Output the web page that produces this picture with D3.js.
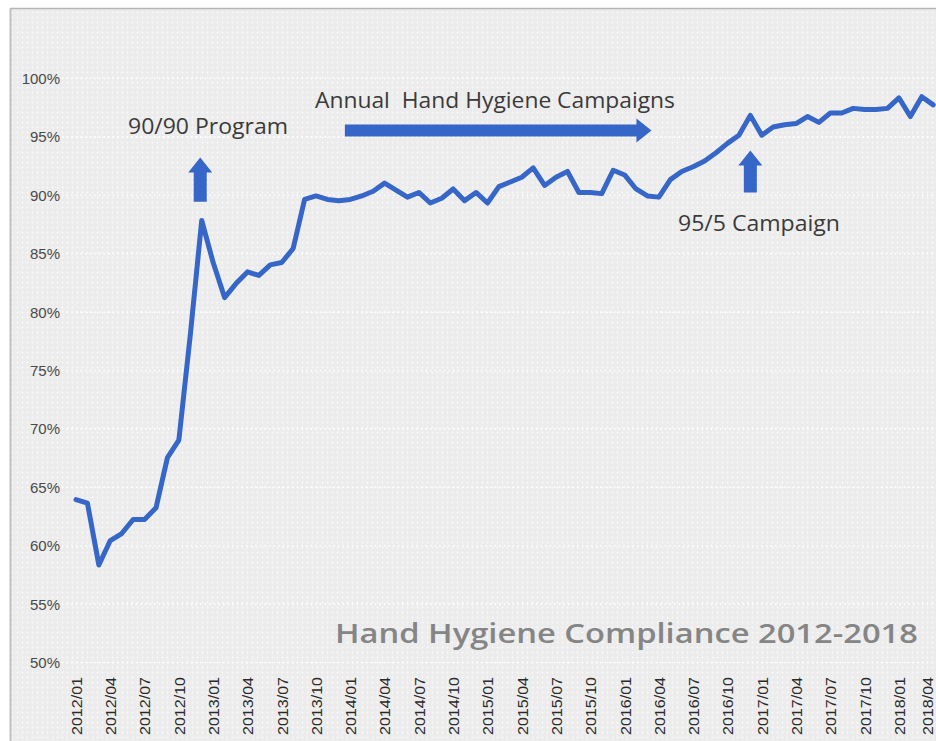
<!DOCTYPE html>
<html>
<head>
<meta charset="utf-8">
<script src="https://cdn.jsdelivr.net/npm/d3@7"></script>
<style>
  html, body { margin: 0; padding: 0; background: #ffffff; }
  svg { display: block; }
</style>
</head>
<body>
<svg id="chart" width="936" height="741"></svg>
<script>
// ---- DATA ----
const months = [
  "2012/01","2012/02","2012/03","2012/04","2012/05","2012/06","2012/07","2012/08","2012/09","2012/10","2012/11","2012/12",
  "2013/01","2013/02","2013/03","2013/04","2013/05","2013/06","2013/07","2013/08","2013/09","2013/10","2013/11","2013/12",
  "2014/01","2014/02","2014/03","2014/04","2014/05","2014/06","2014/07","2014/08","2014/09","2014/10","2014/11","2014/12",
  "2015/01","2015/02","2015/03","2015/04","2015/05","2015/06","2015/07","2015/08","2015/09","2015/10","2015/11","2015/12",
  "2016/01","2016/02","2016/03","2016/04","2016/05","2016/06","2016/07","2016/08","2016/09","2016/10","2016/11","2016/12",
  "2017/01","2017/02","2017/03","2017/04","2017/05","2017/06","2017/07","2017/08","2017/09","2017/10","2017/11","2017/12",
  "2018/01","2018/02","2018/03","2018/04"
];
const compliance = [
  63.9, 63.6, 58.3, 60.4, 61.0, 62.2, 62.2, 63.2, 67.5, 69.0, 78.0, 87.8,
  84.2, 81.2, 82.4, 83.4, 83.1, 84.0, 84.2, 85.4, 89.6, 89.9, 89.6, 89.5,
  89.6, 89.9, 90.3, 91.0, 90.4, 89.8, 90.2, 89.3, 89.7, 90.5, 89.5, 90.2,
  89.3, 90.7, 91.1, 91.5, 92.3, 90.8, 91.5, 92.0, 90.2, 90.2, 90.1, 92.1,
  91.7, 90.5, 89.9, 89.8, 91.3, 92.0, 92.4, 92.9, 93.6, 94.4, 95.1, 96.8,
  95.1, 95.8, 96.0, 96.1, 96.7, 96.2, 97.0, 97.0, 97.4, 97.3, 97.3, 97.4,
  98.3, 96.7, 98.4, 97.7
];
const xTickLabels = months.filter((m, i) => i % 3 === 0);
const yTicks = [50, 55, 60, 65, 70, 75, 80, 85, 90, 95, 100];
const titleText = "Hand Hygiene Compliance 2012-2018";
const annotations = [
  { text: "90/90 Program", month: "2012/12" },
  { text: "Annual  Hand Hygiene Campaigns", from: "2013/12", to: "2016/03" },
  { text: "95/5 Campaign", month: "2016/12" }
];

// ---- LAYOUT ----
const svg = d3.select("#chart");
const W = 936, H = 741;
const blue = "#3566c8";

const defs = svg.append("defs");
const pat = defs.append("pattern")
  .attr("id", "dots").attr("width", 5).attr("height", 5)
  .attr("patternUnits", "userSpaceOnUse");
pat.append("rect").attr("width", 5).attr("height", 5).attr("fill", "#ececec");
pat.append("circle").attr("cx", 2.5).attr("cy", 2.5).attr("r", 0.9).attr("fill", "#fbfbfb");

// frame background
svg.append("rect").attr("x", 10).attr("y", 8).attr("width", W - 10).attr("height", H - 8)
  .attr("fill", "url(#dots)");
svg.append("line").attr("x1", 10).attr("x2", W).attr("y1", 8.5).attr("y2", 8.5)
  .attr("stroke", "#b5b5b5").attr("stroke-width", 1.5);
svg.append("line").attr("x1", 10.5).attr("x2", 10.5).attr("y1", 8).attr("y2", H)
  .attr("stroke", "#c0c0c8").attr("stroke-width", 2);

const x = d3.scalePoint().domain(months).range([76, 933.2]);
const y = d3.scaleLinear().domain([50, 100]).range([662, 78]);

// gridlines (white dotted)
svg.append("g").selectAll("line").data(yTicks).join("line")
  .attr("x1", 62).attr("x2", W)
  .attr("y1", d => y(d) + 0.5).attr("y2", d => y(d) + 0.5)
  .attr("stroke", "#ffffff").attr("stroke-width", 1.6)
  .attr("stroke-dasharray", "1.6,3");

// y axis
const yAxis = d3.axisLeft(y).tickValues(yTicks).tickFormat(d => d + "%").tickSize(0).tickPadding(0);
const gy = svg.append("g").attr("transform", "translate(60,0)").call(yAxis);
gy.select(".domain").remove();
gy.selectAll("text")
  .attr("font-family", "'Liberation Sans', Arial, sans-serif")
  .attr("font-size", 15).attr("fill", "#4a4a4a")
  .attr("dy", "0.36em");

// x axis
const xAxis = d3.axisBottom(x).tickValues(xTickLabels).tickSize(0).tickPadding(0);
const gx = svg.append("g").attr("transform", "translate(0,677)").call(xAxis);
gx.select(".domain").remove();
gx.selectAll("text")
  .attr("font-family", "'Liberation Sans', Arial, sans-serif")
  .attr("font-size", 15).attr("fill", "#2a2a2a")
  .attr("text-anchor", "end")
  .attr("transform", "rotate(-90)")
  .attr("x", 0).attr("y", (d, i, n) => i === n.length - 1 ? -6.5 : 0).attr("dy", "0.36em")
  .attr("textLength", 58).attr("lengthAdjust", "spacingAndGlyphs");

// line
const line = d3.line().x((d, i) => x(months[i])).y(d => y(d));
svg.append("path").datum(compliance)
  .attr("d", line)
  .attr("fill", "none").attr("stroke", blue)
  .attr("stroke-width", 5).attr("stroke-linejoin", "round").attr("stroke-linecap", "round");

// title
svg.append("text").attr("x", 335).attr("y", 643)
  .attr("font-family", "'Open Sans', sans-serif").attr("font-weight", 600)
  .attr("font-size", 27).attr("fill", "#858585")
  .attr("textLength", 583).attr("lengthAdjust", "spacingAndGlyphs")
  .text(titleText);

// annotation helpers
function upArrow(cx, tipY, baseY) {
  const hw = 12, sw = 6.5, headH = 15;
  const p = [[cx, tipY], [cx + hw, tipY + headH], [cx + sw, tipY + headH], [cx + sw, baseY],
             [cx - sw, baseY], [cx - sw, tipY + headH], [cx - hw, tipY + headH]];
  svg.append("polygon").attr("points", p.map(q => q.join(",")).join(" ")).attr("fill", blue);
}
function rightArrow(x0, x1, cy) {
  const hh = 12, sh = 6, headW = 15;
  const p = [[x1, cy], [x1 - headW, cy - hh], [x1 - headW, cy - sh], [x0, cy - sh],
             [x0, cy + sh], [x1 - headW, cy + sh], [x1 - headW, cy + hh]];
  svg.append("polygon").attr("points", p.map(q => q.join(",")).join(" ")).attr("fill", blue);
}
const annFont = "'Open Sans', sans-serif";

// 90/90 Program
upArrow(x(annotations[0].month) - 1.5, y(93.2), y(89.4));
svg.append("text").attr("x", 128).attr("y", 134)
  .attr("font-family", annFont).attr("font-size", 21).attr("fill", "#3a3a3a")
  .attr("textLength", 160).attr("lengthAdjust", "spacingAndGlyphs")
  .text(annotations[0].text);

// Annual campaigns
rightArrow(x(annotations[1].from) + 6, x(annotations[1].to) + 4, y(95.5));
svg.append("text").attr("x", 315).attr("y", 108)
  .attr("font-family", annFont).attr("font-size", 21).attr("fill", "#3a3a3a")
  .attr("textLength", 360).attr("lengthAdjust", "spacingAndGlyphs")
  .attr("xml:space", "preserve")
  .text(annotations[1].text);

// 95/5 Campaign
upArrow(x(annotations[2].month), y(93.8), y(90.2));
svg.append("text").attr("x", 678).attr("y", 231)
  .attr("font-family", annFont).attr("font-size", 21).attr("fill", "#3a3a3a")
  .attr("textLength", 162).attr("lengthAdjust", "spacingAndGlyphs")
  .text(annotations[2].text);
</script>
</body>
</html>
